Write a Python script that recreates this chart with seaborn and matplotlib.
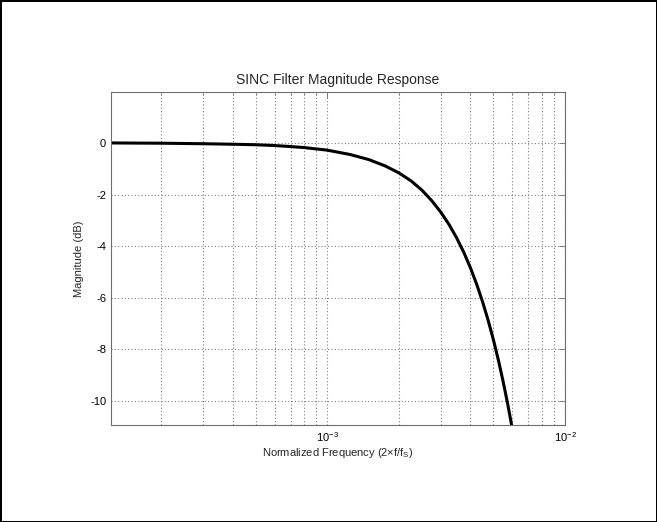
import numpy as np
import pandas as pd
import matplotlib
matplotlib.use('Agg')
import matplotlib.pyplot as plt
import seaborn as sns

# values
freq = [1.23e-4, 2e-4, 3e-4, 4e-4, 5e-4, 6e-4, 7e-4, 8e-4, 1e-3, 1.25e-3,
        1.5e-3, 1.75e-3, 2e-3, 2.25e-3, 2.5e-3, 2.75e-3, 3e-3, 3.25e-3,
        3.5e-3, 3.75e-3, 4e-3, 4.25e-3, 4.5e-3, 4.75e-3, 5e-3, 5.25e-3,
        5.5e-3, 5.75e-3, 6e-3, 6.1e-3]
mag_db = [0.0, -0.01, -0.03, -0.05, -0.07, -0.10, -0.14, -0.18, -0.28, -0.45,
          -0.65, -0.89, -1.16, -1.47, -1.83, -2.24, -2.68, -3.16,
          -3.68, -4.24, -4.84, -5.48, -6.16, -6.88, -7.64, -8.44,
          -9.28, -10.16, -11.08, -11.46]
y_ticks = [0, -2, -4, -6, -8, -10]
x_ticks = [1e-3, 1e-2]

sns.set_theme(style='white')
plt.rcParams['font.family'] = ['Liberation Sans', 'DejaVu Sans']
plt.rcParams['mathtext.fontset'] = 'custom'
plt.rcParams['mathtext.rm'] = 'Liberation Sans'
plt.rcParams['mathtext.it'] = 'Liberation Sans:italic'

df = pd.DataFrame({'f': freq, 'mag': mag_db})

fig = plt.figure(figsize=(6.57, 5.22), dpi=100)
fig.patch.set_facecolor('white')
fig.patch.set_edgecolor('black')
fig.patch.set_linewidth(2)
ax = fig.add_axes([0.169, 0.186, 0.691, 0.638])

sns.lineplot(data=df, x='f', y='mag', ax=ax, color='black', linewidth=2.2, sort=False)
ax.set_xscale('log')
ax.set_xlim(1.23e-4, 1e-2)
ax.set_ylim(-10.93, 1.98)
ax.set_xticks(x_ticks)
ax.set_yticks(y_ticks)
ax.set_yticklabels([str(t) for t in y_ticks])

ax.grid(True, which='both', axis='x', linestyle=(0, (1, 2)), color='#808080', linewidth=0.8)
ax.grid(True, which='major', axis='y', linestyle=(0, (1, 2)), color='#808080', linewidth=0.8)
ax.set_axisbelow(True)

for s in ax.spines.values():
    s.set_color('#6e6e6e')
    s.set_linewidth(0.8)
ax.tick_params(which='both', direction='in', top=True, right=True, color='#6e6e6e',
               labelsize=8, labelcolor='black')
ax.tick_params(which='major', length=4, width=0.6)
ax.tick_params(which='minor', length=2, width=0.5)

ax.set_title('SINC Filter Magnitude Response', fontsize=10, pad=6)
ax.set_xlabel(r'Normalized Frequency (2$\times$f/f$_\mathregular{S}$)', fontsize=8, labelpad=2)
ax.set_ylabel('Magnitude (dB)', fontsize=8, labelpad=4)

fig.savefig('out.png', dpi=100, facecolor='white', edgecolor='black')
